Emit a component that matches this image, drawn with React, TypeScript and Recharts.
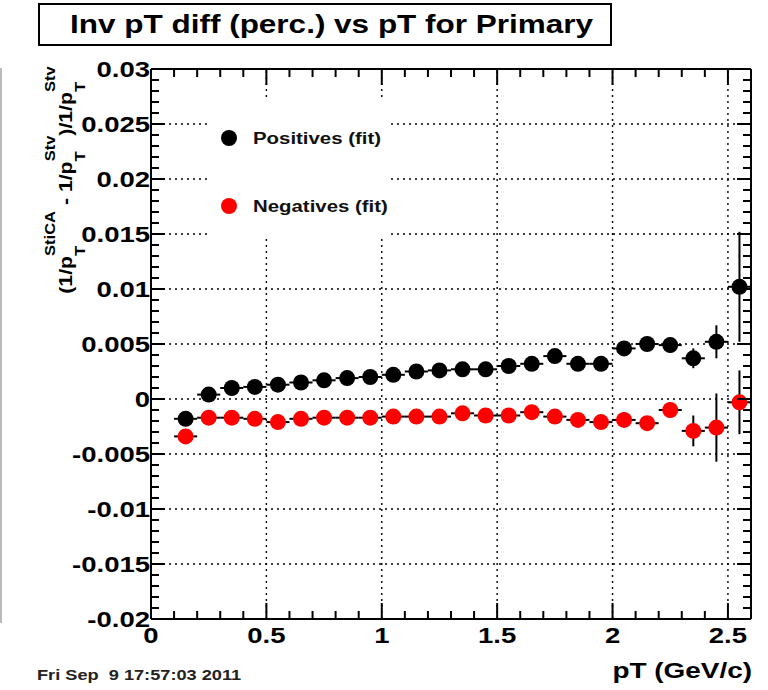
import React from 'react';
import {
  ScatterChart, Scatter, XAxis, YAxis, ErrorBar, ReferenceLine,
} from 'recharts';

// pT bin centres (GeV/c), bin half-width 0.05
const PT_CENTRES = [
  0.15, 0.25, 0.35, 0.45, 0.55, 0.65, 0.75, 0.85, 0.95, 1.05, 1.15, 1.25, 1.35,
  1.45, 1.55, 1.65, 1.75, 1.85, 1.95, 2.05, 2.15, 2.25, 2.35, 2.45, 2.55,
];
const PT_HALF_WIDTH = 0.05;

const POSITIVES = [
  -0.0018, 0.0004, 0.0010, 0.0011, 0.0013, 0.0015, 0.0017, 0.0019, 0.0020, 0.0022, 0.0025, 0.0026, 0.0027,
  0.0027, 0.0030, 0.0032, 0.0039, 0.0032, 0.0032, 0.0046, 0.0050, 0.0049, 0.0037, 0.0052, 0.0102,
];
const POSITIVES_ERR = [
  0.0003, 0.0002, 0.0002, 0.0002, 0.0002, 0.0002, 0.0002, 0.0002, 0.0002, 0.0003, 0.0003, 0.0003, 0.0003,
  0.0003, 0.0004, 0.0004, 0.0005, 0.0005, 0.0005, 0.0006, 0.0006, 0.0007, 0.0009, 0.0015, 0.0050,
];

const NEGATIVES = [
  -0.0034, -0.0017, -0.0017, -0.0018, -0.0021, -0.0018, -0.0017, -0.0017, -0.0017, -0.0016, -0.0016, -0.0016, -0.0013,
  -0.0015, -0.0015, -0.0012, -0.0016, -0.0019, -0.0021, -0.0019, -0.0022, -0.0010, -0.0029, -0.0026, -0.0003,
];
const NEGATIVES_ERR = [
  0.0003, 0.0002, 0.0002, 0.0002, 0.0002, 0.0002, 0.0002, 0.0002, 0.0002, 0.0003, 0.0003, 0.0003, 0.0003,
  0.0003, 0.0004, 0.0004, 0.0005, 0.0005, 0.0005, 0.0006, 0.0006, 0.0007, 0.0014, 0.0031, 0.0029,
];

const X_MAJOR = [0, 0.5, 1, 1.5, 2, 2.5];
const Y_MAJOR = [-0.02, -0.015, -0.01, -0.005, 0, 0.005, 0.01, 0.015, 0.02, 0.025, 0.03];
const X_DOMAIN: [number, number] = [0, 2.6];
const Y_DOMAIN: [number, number] = [-0.02, 0.03];

// minor divisions: 0.1 on x, 0.001 on y
const X_TICKS = Array.from({ length: 27 }, (_, i) => i / 10);
const Y_TICKS = Array.from({ length: 51 }, (_, i) => (i - 20) / 1000);

const SERIES = [
  { name: 'Positives (fit)', color: '#000000', values: POSITIVES, errors: POSITIVES_ERR },
  { name: 'Negatives (fit)', color: '#ff0000', values: NEGATIVES, errors: NEGATIVES_ERR },
];

const W = 768;
const H = 690;
const MARGIN = { top: 69, right: 17, bottom: 41, left: 91 };
const Y_AXIS_W = 60;
const X_AXIS_H = 30;
const PLOT_W = W - MARGIN.left - MARGIN.right - Y_AXIS_W;
const PLOT_H = H - MARGIN.top - MARGIN.bottom - X_AXIS_H;

const FONT = '"Liberation Sans", Arial, Helvetica, sans-serif';
const STRETCH = 1.25;

const isMajor = (v: number, majors: number[]) => majors.some((m) => Math.abs(m - v) < 1e-9);

function XTick({ x, y, payload }: any) {
  const v = payload.value;
  const major = isMajor(v, X_MAJOR);
  const len = major ? 16 : 8;
  return (
    <g>
      <line x1={x} y1={y} x2={x} y2={y - len} stroke="#000" strokeWidth={2} />
      <line x1={x} y1={y - PLOT_H} x2={x} y2={y - PLOT_H + len} stroke="#000" strokeWidth={2} />
      {major && (
        <g transform={`translate(${x},${y + 24}) scale(${STRETCH},1)`}>
          <text textAnchor="middle" fontFamily={FONT} fontWeight="bold" fontSize={22} fill="#000">
            {String(v)}
          </text>
        </g>
      )}
    </g>
  );
}

function YTick({ x, y, payload }: any) {
  const v = payload.value;
  const major = isMajor(v, Y_MAJOR);
  const len = major ? 14 : 8;
  return (
    <g>
      <line x1={x} y1={y} x2={x + len} y2={y} stroke="#000" strokeWidth={2} />
      <line x1={x + PLOT_W} y1={y} x2={x + PLOT_W - len} y2={y} stroke="#000" strokeWidth={2} />
      {major && (
        <g transform={`translate(${x - 1},${y + 8}) scale(${STRETCH},1)`}>
          <text textAnchor="end" fontFamily={FONT} fontWeight="bold" fontSize={22} fill="#000">
            {String(v)}
          </text>
        </g>
      )}
    </g>
  );
}

const dot = (color: string) => (props: any) => (
  <circle cx={props.cx} cy={props.cy} r={8} fill={color} />
);

export default function App() {
  const seriesData = SERIES.map((s) => ({
    ...s,
    data: PT_CENTRES.map((pt, i) => ({ x: pt, y: s.values[i], ex: PT_HALF_WIDTH, ey: s.errors[i] })),
  }));

  return (
    <div style={{ position: 'absolute', left: 0, top: 0, width: W, height: H, background: '#fff' }}>
      <ScatterChart width={W} height={H} margin={MARGIN}>
        {X_MAJOR.filter((v) => v > 0).map((v) => (
          <ReferenceLine key={`gx${v}`} x={v} stroke="#000" strokeWidth={1.4} strokeDasharray="2 4" />
        ))}
        {Y_MAJOR.filter((v) => v > Y_DOMAIN[0] && v < Y_DOMAIN[1]).map((v) => (
          <ReferenceLine key={`gy${v}`} y={v} stroke="#000" strokeWidth={1.4} strokeDasharray="2 4" />
        ))}
        <ReferenceLine x={X_DOMAIN[1]} stroke="#000" strokeWidth={2} />
        <ReferenceLine y={Y_DOMAIN[1]} stroke="#000" strokeWidth={2} />
        <XAxis
          type="number"
          dataKey="x"
          domain={X_DOMAIN}
          ticks={X_TICKS}
          interval={0}
          allowDataOverflow
          height={X_AXIS_H}
          tickSize={0}
          tickMargin={0}
          tickLine={false}
          axisLine={{ stroke: '#000', strokeWidth: 2 }}
          tick={(p: any) => <XTick {...p} />}
        />
        <YAxis
          type="number"
          dataKey="y"
          domain={Y_DOMAIN}
          ticks={Y_TICKS}
          interval={0}
          allowDataOverflow
          width={Y_AXIS_W}
          tickSize={0}
          tickMargin={0}
          tickLine={false}
          axisLine={{ stroke: '#000', strokeWidth: 2 }}
          tick={(p: any) => <YTick {...p} />}
        />
        {seriesData.map((s) => (
          <Scatter
            key={s.name}
            name={s.name}
            data={s.data}
            fill={s.color}
            shape={dot(s.color)}
            isAnimationActive={false}
          >
            <ErrorBar dataKey="ex" direction="x" width={0} stroke="#000" strokeWidth={2} />
            <ErrorBar dataKey="ey" direction="y" width={0} stroke="#000" strokeWidth={2} />
          </Scatter>
        ))}
      </ScatterChart>

      <svg
        width={W}
        height={H}
        style={{ position: 'absolute', left: 0, top: 0, pointerEvents: 'none' }}
        fontFamily={FONT}
      >
        {/* title box */}
        <rect x={39} y={4} width={572} height={41} fill="#fff" stroke="#000" strokeWidth={2} />
        <g transform={`translate(70,33) scale(1.26,1)`}>
          <text fontSize={25} fontWeight="bold" fill="#000">Inv pT diff (perc.) vs pT for Primary</text>
        </g>

        {/* legend */}
        <rect x={207} y={98} width={182} height={138} fill="#fff" />
        {seriesData.map((s, i) => (
          <g key={s.name}>
            <circle cx={229} cy={138 + i * 68} r={8} fill={s.color} />
            <g transform={`translate(253,${144 + i * 68}) scale(1.2,1)`}>
              <text fontSize={17} fontWeight="bold" fill="#111">{s.name}</text>
            </g>
          </g>
        ))}

        {/* y axis title */}
        <g transform="translate(72,180) rotate(-90) scale(1.18,1)">
          <text textAnchor="middle" fontSize={18} fontWeight="bold" fill="#000" style={{ whiteSpace: 'pre' }}>
            <tspan>(1/p</tspan>
            <tspan fontSize={14} dy={13}>T</tspan>
            <tspan fontSize={14} dx={-8.5} dy={-30}>StiCA</tspan>
            <tspan dy={17}> - 1/p</tspan>
            <tspan fontSize={14} dy={13}>T</tspan>
            <tspan fontSize={14} dx={-8.5} dy={-30}>Stv</tspan>
            <tspan dy={17}>)/1/p</tspan>
            <tspan fontSize={14} dy={13}>T</tspan>
            <tspan fontSize={14} dx={-8.5} dy={-30}>Stv</tspan>
          </text>
        </g>

        {/* x axis title */}
        <g transform={`translate(752,678) scale(1.27,1)`}>
          <text textAnchor="end" fontSize={22} fontWeight="bold" fill="#000">pT (GeV/c)</text>
        </g>

        {/* timestamp */}
        <g transform={`translate(37,680) scale(1.3,1)`}>
          <text fontSize={14} fontWeight="bold" fill="#222" style={{ whiteSpace: 'pre' }}>Fri Sep  9 17:57:03 2011</text>
        </g>

        <line x1={1} y1={68} x2={1} y2={623} stroke="#bbb" strokeWidth={2} />
      </svg>
    </div>
  );
}
